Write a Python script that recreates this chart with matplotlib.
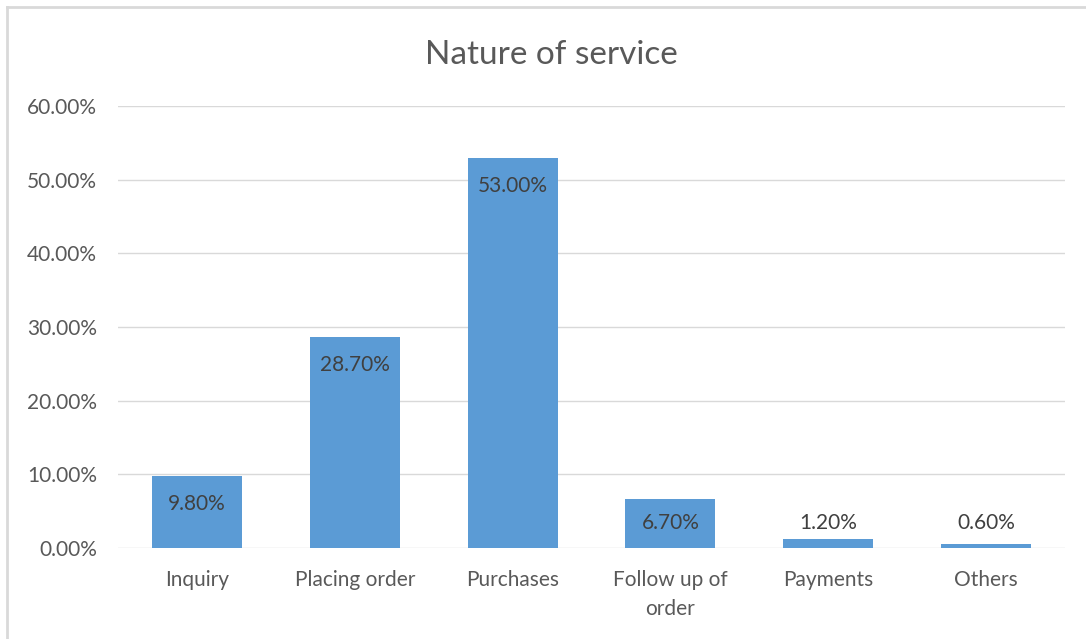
import matplotlib.pyplot as plt
from matplotlib.ticker import FuncFormatter

categories = ["Inquiry", "Placing order", "Purchases", "Follow up of\norder", "Payments", "Others"]
shares = [9.8, 28.7, 53.0, 6.7, 1.2, 0.6]
y_ticks = [0, 10, 20, 30, 40, 50, 60]

plt.rcParams["font.family"] = ["Lato", "DejaVu Sans"]

fig = plt.figure(figsize=(10.86, 6.39), dpi=100)
ax = fig.add_axes([118 / 1086, 91 / 639, 947 / 1086, 442 / 639])

x = range(len(categories))
ax.bar(x, shares, width=0.57, color="#5b9bd5", zorder=3)

# labels sit just inside the bar end, but never lower than a floor near the axis
for i, v in enumerate(shares):
    y = max(v - 3.8, 3.4)
    ax.text(i, y, f"{v:.2f}%", ha="center", va="center", fontsize=15, color="#404040", zorder=4)

ax.set_xlim(-0.5, len(categories) - 0.5)
ax.set_ylim(0, 60)
ax.set_yticks(y_ticks)
ax.yaxis.set_major_formatter(FuncFormatter(lambda v, _: f"{v:.2f}%"))
ax.set_xticks(list(x))
ax.set_xticklabels(categories, linespacing=1.55)
ax.tick_params(axis="both", length=0, labelsize=15, labelcolor="#595959")
ax.tick_params(axis="y", pad=15)
ax.tick_params(axis="x", pad=16)
ax.grid(axis="y", color="#d9d9d9", linewidth=1, zorder=0)
for s in ax.spines.values():
    s.set_visible(False)

fig.text(551 / 1086, 1 - 55 / 639, "Nature of service", ha="center", va="center", fontsize=24, color="#595959")

# chart frame: only the top and left edges show
fig.add_artist(plt.Line2D([7 / 1086, 7 / 1086], [0, 1 - 7 / 639], transform=fig.transFigure, color="#d9d9d9", linewidth=2))
fig.add_artist(plt.Line2D([7 / 1086, 1], [1 - 7 / 639, 1 - 7 / 639], transform=fig.transFigure, color="#d9d9d9", linewidth=2))

fig.savefig("out.png", dpi=100)
